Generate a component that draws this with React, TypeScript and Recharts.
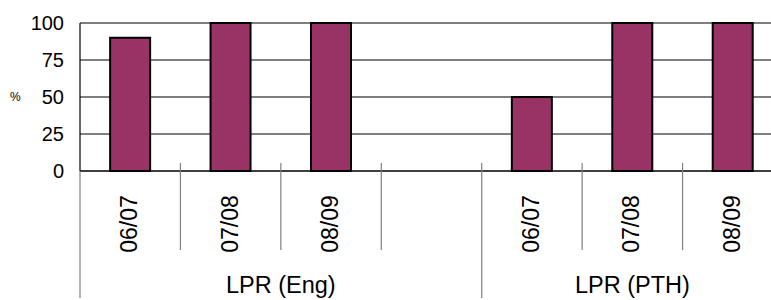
import React from "react";
import { Bar, BarChart, CartesianGrid, XAxis, YAxis } from "recharts";

// slots along the x axis (one empty slot closes the first group)
const slots = ["eng-0607", "eng-0708", "eng-0809", "eng-gap", "pth-0607", "pth-0708", "pth-0809"];
const periods = ["06/07", "07/08", "08/09", "", "06/07", "07/08", "08/09"];
const groups = ["LPR (Eng)", "LPR (Eng)", "LPR (Eng)", "LPR (Eng)", "LPR (PTH)", "LPR (PTH)", "LPR (PTH)"];
const pct: (number | null)[] = [90, 100, 100, null, 50, 100, 100];
const yTicks = [0, 25, 50, 75, 100];

const data = slots.map((s, i) => ({ slot: s, value: pct[i] }));

const W = 790;
const H = 300;
const LEFT = 80;
const RIGHT_MARGIN = 7;
const TOP = 23;
const AXIS_Y = 171;
const SLOT = (W - LEFT - RIGHT_MARGIN) / slots.length;
const FONT = "'Liberation Sans', Arial, sans-serif";
const SEP = "#7f7f7f";

function SlotTick(props: any) {
  const { x, index } = props;
  const i = index as number;
  const left = x - SLOT / 2;
  const groupStart = i === 0 || groups[i] !== groups[i - 1];
  const groupSize = groups.filter((g) => g === groups[i]).length;
  return (
    <g>
      {groupStart ? (
        <line x1={left} x2={left} y1={i === 0 ? AXIS_Y : AXIS_Y - 8} y2={H - 2} stroke={SEP} strokeWidth={1.2} />
      ) : (
        <line x1={left} x2={left} y1={AXIS_Y - 8} y2={250} stroke={SEP} strokeWidth={1.2} />
      )}
      {periods[i] && (
        <text
          transform={`translate(${x - 1},${224}) rotate(-90)`}
          textAnchor="middle"
          dominantBaseline="central"
          fontSize={23}
          fontFamily={FONT}
          fill="#000"
        >
          {periods[i]}
        </text>
      )}
      {groupStart && (
        <text
          x={left + (groupSize * SLOT) / 2}
          y={293}
          textAnchor="middle"
          fontSize={23.5}
          fontFamily={FONT}
          fill="#000"
        >
          {groups[i]}
        </text>
      )}
    </g>
  );
}

export default function App() {
  return (
    <div
      style={{
        position: "fixed",
        left: 0,
        top: 0,
        width: 771,
        height: 300,
        overflow: "hidden",
        background: "#fff",
      }}
    >
      <BarChart
        width={W}
        height={H}
        data={data}
        margin={{ top: TOP, right: RIGHT_MARGIN, bottom: 0, left: 0 }}
        barCategoryGap="30%"
      >
        <CartesianGrid vertical={false} stroke="#000" strokeWidth={1.2} />
        <XAxis
          dataKey="slot"
          height={H - AXIS_Y}
          axisLine={{ stroke: "#000", strokeWidth: 1.2 }}
          tickLine={false}
          interval={0}
          tick={<SlotTick />}
        />
        <YAxis
          width={LEFT}
          domain={[0, 100]}
          ticks={yTicks}
          axisLine={{ stroke: "#000", strokeWidth: 1.2 }}
          tickLine={false}
          tickSize={6}
          tickMargin={10}
          tick={{ fontSize: 20, fill: "#000", fontFamily: FONT }}
          label={{ value: "%", position: "insideLeft", offset: 10, fontSize: 12, fill: "#000", fontFamily: FONT }}
        />
        <Bar dataKey="value" fill="#993366" stroke="#000" strokeWidth={2} isAnimationActive={false} />
      </BarChart>
    </div>
  );
}
